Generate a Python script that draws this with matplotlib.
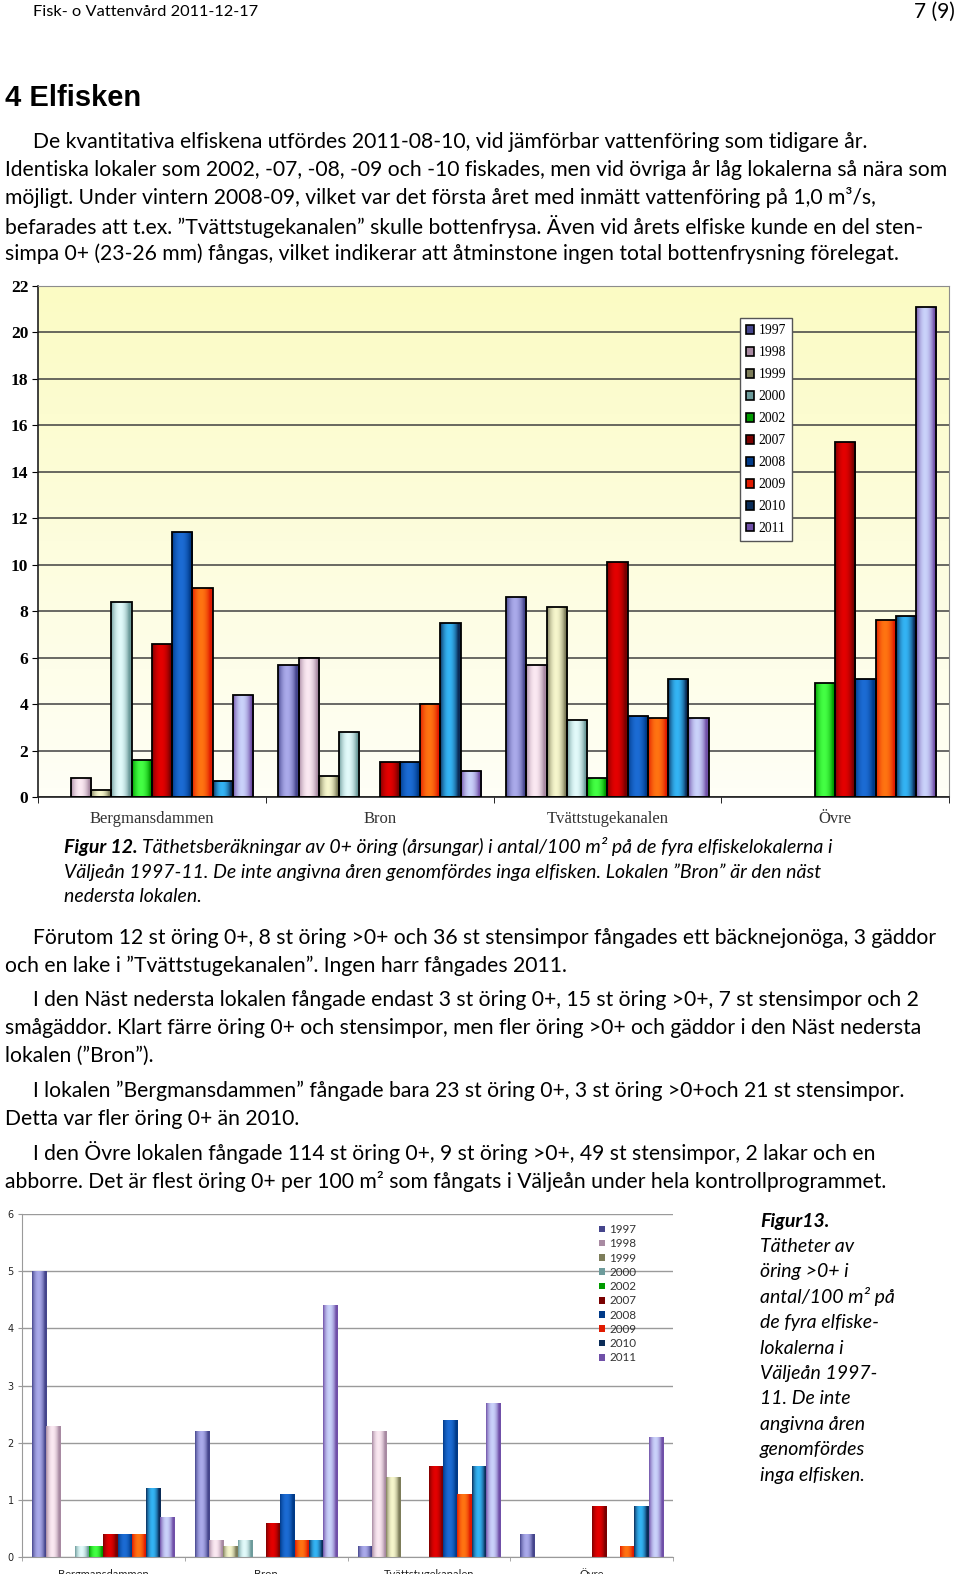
import numpy as np
import matplotlib
matplotlib.use('Agg')
import matplotlib.pyplot as plt
from matplotlib.colors import to_rgb
from matplotlib.patches import Patch, Rectangle

# ---- data ----
sites = ['Bergmansdammen', 'Bron', 'Tvättstugekanalen', 'Övre']
years = ['1997', '1998', '1999', '2000', '2002', '2007', '2008', '2009', '2010', '2011']

# figur 12: 0+ oring per 100 m2, one value per year
berg_0 = [0, 0.8, 0.3, 8.4, 1.6, 6.6, 11.4, 9.0, 0.7, 4.4]
bron_0 = [5.7, 6.0, 0.9, 2.8, 0, 1.5, 1.5, 4.0, 7.5, 1.1]
tvatt_0 = [8.6, 5.7, 8.2, 3.3, 0.8, 10.1, 3.5, 3.4, 5.1, 3.4]
ovre_0 = [0, 0, 0, 0, 4.9, 15.3, 5.1, 7.6, 7.8, 21.1]

# figur 13: >0+ oring per 100 m2
berg_1 = [5.0, 2.3, 0, 0.2, 0.2, 0.4, 0.4, 0.4, 1.2, 0.7]
bron_1 = [2.2, 0.3, 0.2, 0.3, 0, 0.6, 1.1, 0.3, 0.3, 4.4]
tvatt_1 = [0.2, 2.2, 1.4, 0, 0, 1.6, 2.4, 1.1, 1.6, 2.7]
ovre_1 = [0.4, 0, 0, 0, 0, 0.9, 0, 0.2, 0.9, 2.1]

# dark edge / light centre for the shaded bars
dark = ['#45458c', '#a88aa2', '#7d7d5a', '#6d9b9b', '#009a00',
        '#7a0000', '#003a88', '#e01a00', '#0a2c58', '#7050a8']
light = ['#aaaaea', '#fbe9f2', '#f6f6cc', '#e2fafa', '#44ff44',
         '#e40000', '#1c6cd4', '#ff7412', '#34b4f4', '#cad2fa']

W, H = 960, 1580
fig = plt.figure(figsize=(W / 100, H / 100), dpi=100)
body = ['Lato', 'DejaVu Sans']
BODY_SIZE = 15.2
CAP_SIZE = 14.0


def put(x, y, s, **kw):
    kw.setdefault('family', body)
    kw.setdefault('fontsize', BODY_SIZE)
    kw.setdefault('va', 'center')
    return fig.text(x / W, 1 - y / H, s, **kw)


def shade(ax, bars, c0, c1, z):
    d, l = np.array(to_rgb(c0)), np.array(to_rgb(c1))
    t = np.linspace(0, 1, 40)
    k = np.sin(np.pi * np.clip(t * 1.15, 0, 1)) ** 0.8
    grad = (d + (l - d) * k[:, None])[None]
    for b in bars:
        h = b.get_height()
        if h <= 0:
            b.set_visible(False)
            continue
        x0 = b.get_x()
        im = ax.imshow(grad, extent=[x0, x0 + b.get_width(), 0, h], aspect='auto',
                       interpolation='bilinear', zorder=z)
        im.set_clip_path(b)


def grouped(ax, data, width, edge, lw):
    x = np.arange(len(sites))
    for i in range(len(years)):
        vals = [d[i] for d in data]
        bars = ax.bar(x + (i - 4.5) * width, vals, width, facecolor='none',
                      edgecolor=edge, linewidth=lw, zorder=3)
        shade(ax, bars, dark[i], light[i], 2.5)


# ---- page text ----
put(33, 12, 'Fisk- o Vattenvård 2011-12-17', fontsize=11.8)
put(955, 12, '7 (9)', fontsize=15, ha='right')
put(5, 98, '4 Elfisken', family='Liberation Sans', fontweight='bold', fontsize=21)

intro = ['De kvantitativa elfiskena utfördes 2011-08-10, vid jämförbar vattenföring som tidigare år.',
         'Identiska lokaler som 2002, -07, -08, -09 och -10 fiskades, men vid övriga år låg lokalerna så nära som',
         'möjligt. Under vintern 2008-09, vilket var det första året med inmätt vattenföring på 1,0 m³/s,',
         'befarades att t.ex. ”Tvättstugekanalen” skulle bottenfrysa. Även vid årets elfiske kunde en del sten-',
         'simpa 0+ (23-26 mm) fångas, vilket indikerar att åtminstone ingen total bottenfrysning förelegat.']
for j, s in enumerate(intro):
    put(33 if j == 0 else 5, 142 + j * 28, s)

# caption 12: bold label, then the italic text right after it
lab = put(64, 847, 'Figur 12.', style='italic', fontweight='bold', fontsize=CAP_SIZE)
x_end = lab.get_window_extent(fig.canvas.get_renderer()).x1
put(x_end + 4, 847, 'Täthetsberäkningar av 0+ öring (årsungar) i antal/100 m² på de fyra elfiskelokalerna i',
    style='italic', fontsize=CAP_SIZE)
put(64, 872, 'Väljeån 1997-11. De inte angivna åren genomfördes inga elfisken. Lokalen ”Bron” är den näst',
    style='italic', fontsize=CAP_SIZE)
put(64, 897, 'nedersta lokalen.', style='italic', fontsize=CAP_SIZE)

paras = [(938, ['Förutom 12 st öring 0+, 8 st öring >0+ och 36 st stensimpor fångades ett bäcknejonöga, 3 gäddor',
                'och en lake i ”Tvättstugekanalen”. Ingen harr fångades 2011.']),
         (1000, ['I den Näst nedersta lokalen fångade endast 3 st öring 0+, 15 st öring >0+, 7 st stensimpor och 2',
                 'smågäddor. Klart färre öring 0+ och stensimpor, men fler öring >0+ och gäddor i den Näst nedersta',
                 'lokalen (”Bron”).']),
         (1091, ['I lokalen ”Bergmansdammen” fångade bara 23 st öring 0+, 3 st öring >0+och 21 st stensimpor.',
                 'Detta var fler öring 0+ än 2010.']),
         (1153, ['I den Övre lokalen fångade 114 st öring 0+, 9 st öring >0+, 49 st stensimpor, 2 lakar och en',
                 'abborre. Det är flest öring 0+ per 100 m² som fångats i Väljeån under hela kontrollprogrammet.'])]
for y0, lines in paras:
    for j, s in enumerate(lines):
        put(33 if j == 0 else 5, y0 + j * 28, s)

cap13 = ['Tätheter av', 'öring >0+ i', 'antal/100 m² på', 'de fyra elfiske-', 'lokalerna i',
         'Väljeån 1997-', '11. De inte', 'angivna åren', 'genomfördes', 'inga elfisken.']
put(760, 1221, 'Figur13.', style='italic', fontweight='bold', fontsize=CAP_SIZE)
for j, s in enumerate(cap13):
    put(760, 1246 + j * 25.5, s, style='italic', fontsize=CAP_SIZE)

# ---- figur 12 ----
ax = fig.add_axes([38 / W, 1 - 797 / H, 911 / W, 511 / H])
bg = np.linspace(to_rgb('#fbfbc4'), to_rgb('#fffff6'), 60)[:, None, :]
ax.imshow(bg, extent=[-0.5, 3.5, 0, 22], aspect='auto', zorder=0)
grouped(ax, [berg_0, bron_0, tvatt_0, ovre_0], 0.089, 'black', 1.3)
ax.set_xlim(-0.5, 3.5)
ax.set_ylim(0, 22)
ax.set_yticks(range(0, 23, 2))
ax.yaxis.grid(True, color='#404040', linewidth=1.1)
ax.set_axisbelow(True)
for sp in ['top', 'right']:
    ax.spines[sp].set_color('#8c8c8c')
for sp in ['left', 'bottom']:
    ax.spines[sp].set_color('#202020')
    ax.spines[sp].set_linewidth(1.2)
ax.tick_params(axis='y', length=4, pad=3, labelsize=12.5)
for lab in ax.get_yticklabels():
    lab.set_fontfamily('Liberation Serif')
    lab.set_fontweight('bold')
ax.set_xticks(range(4))
ax.set_xticklabels(sites, family='Liberation Serif', fontsize=12, color='#333333')
ax.tick_params(axis='x', which='major', length=0, pad=10)
ax.set_xticks(np.arange(-0.5, 4, 1), minor=True)
ax.tick_params(axis='x', which='minor', length=4)
handles = [Patch(facecolor=dark[i], edgecolor='black', linewidth=1.2) for i in range(len(years))]
leg = ax.legend(handles, years, loc='upper left', bbox_to_anchor=(740 / W, 1 - 318 / H),
                bbox_transform=fig.transFigure, prop={'family': 'Liberation Serif', 'size': 9.8},
                handlelength=0.6, handleheight=0.6, handletextpad=0.3, labelspacing=0.66,
                borderpad=0.45, borderaxespad=0, fancybox=False, framealpha=1, edgecolor='#555555')
leg.get_frame().set_linewidth(1.0)

# ---- figur 13 ----
ax2 = fig.add_axes([22 / W, 1 - 1557 / H, 651 / W, 343 / H])
grouped(ax2, [berg_1, bron_1, tvatt_1, ovre_1], 0.0875, 'none', 0)
ax2.set_xlim(-0.5, 3.5)
ax2.set_ylim(0, 6)
ax2.set_yticks(range(7))
ax2.yaxis.grid(True, color='#9a9a9a', linewidth=1.0)
ax2.set_axisbelow(True)
for sp in ['top', 'right']:
    ax2.spines[sp].set_visible(False)
for sp in ['left', 'bottom']:
    ax2.spines[sp].set_color('#9a9a9a')
ax2.tick_params(axis='y', length=3, pad=3, labelsize=7, colors='#222222', color='#9a9a9a')
ax2.set_xticks(range(4))
ax2.set_xticklabels(sites, family=body, fontsize=8, color='#222222')
ax2.tick_params(axis='x', which='major', length=0, pad=9)
ax2.set_xticks(np.arange(-0.5, 4, 1), minor=True)
ax2.tick_params(axis='x', which='minor', length=3, color='#9a9a9a')
h2 = [Patch(facecolor=dark[i]) for i in range(len(years))]
ax2.legend(h2, years, loc='upper left', bbox_to_anchor=(599 / W, 1 - 1224 / H),
           bbox_transform=fig.transFigure, prop={'family': body, 'size': 8.4},
           labelcolor='#333333', handlelength=0.5, handleheight=0.5, handletextpad=0.4,
           labelspacing=0.28, borderpad=0, borderaxespad=0, frameon=False)

# the original figure is cropped just below the category names
fig.patches.append(Rectangle((0, 0), 1, 6 / H, transform=fig.transFigure,
                             facecolor='white', edgecolor='none', zorder=10))

fig.savefig('out.png', dpi=100, facecolor='white')
